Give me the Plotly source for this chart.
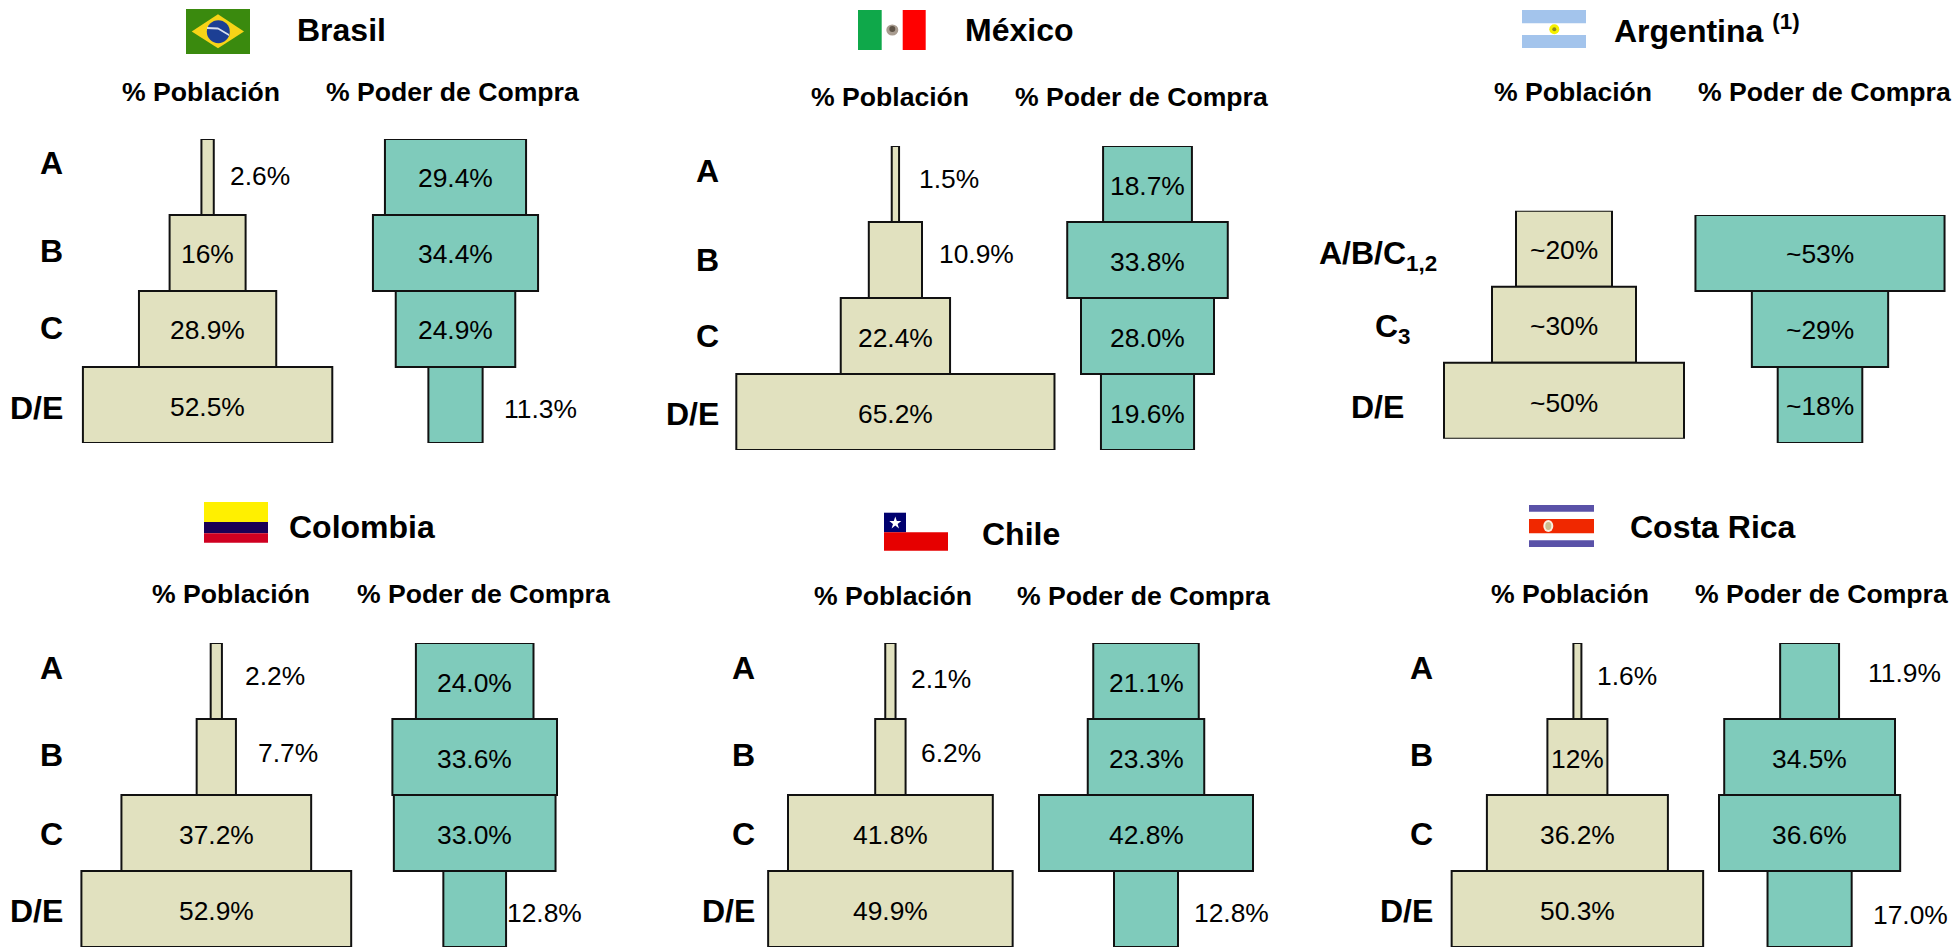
import plotly.graph_objects as go

WIDTH, HEIGHT = 1955, 947
FONT = "Liberation Sans"
TAN = "#E1E1BF"
TEAL = "#7FCBBB"
EDGE = "#111111"

# Socioeconomic levels and shares per country
niveles = ["A", "B", "C", "D/E"]
niveles_ar = ["A/B/C<sub>1,2</sub>", "C<sub>3</sub>", "D/E"]

brasil_pob = [2.6, 16, 28.9, 52.5]
brasil_pob_txt = ["2.6%", "16%", "28.9%", "52.5%"]
brasil_com = [29.4, 34.4, 24.9, 11.3]
brasil_com_txt = ["29.4%", "34.4%", "24.9%", "11.3%"]

mexico_pob = [1.5, 10.9, 22.4, 65.2]
mexico_pob_txt = ["1.5%", "10.9%", "22.4%", "65.2%"]
mexico_com = [18.7, 33.8, 28.0, 19.6]
mexico_com_txt = ["18.7%", "33.8%", "28.0%", "19.6%"]

argentina_pob = [20, 30, 50]
argentina_pob_txt = ["~20%", "~30%", "~50%"]
argentina_com = [53, 29, 18]
argentina_com_txt = ["~53%", "~29%", "~18%"]

colombia_pob = [2.2, 7.7, 37.2, 52.9]
colombia_pob_txt = ["2.2%", "7.7%", "37.2%", "52.9%"]
colombia_com = [24.0, 33.6, 33.0, 12.8]
colombia_com_txt = ["24.0%", "33.6%", "33.0%", "12.8%"]

chile_pob = [2.1, 6.2, 41.8, 49.9]
chile_pob_txt = ["2.1%", "6.2%", "41.8%", "49.9%"]
chile_com = [21.1, 23.3, 42.8, 12.8]
chile_com_txt = ["21.1%", "23.3%", "42.8%", "12.8%"]

costa_pob = [1.6, 12, 36.2, 50.3]
costa_pob_txt = ["1.6%", "12%", "36.2%", "50.3%"]
costa_com = [11.9, 34.5, 36.6, 17.0]
costa_com_txt = ["11.9%", "34.5%", "36.6%", "17.0%"]

COL_POB = "% Población"
COL_COM = "% Poder de Compra"

# Page layout of each funnel: centre x, top y, px per percentage point,
# then the pixel centre of each label (cx, cy)
funnels = [
    dict(cats=niveles, vals=brasil_pob, txt=brasil_pob_txt, color=TAN, cx=207.6, top=139, k=4.75,
         pos=[(259.8, 175.7), (207.6, 254), (207.6, 330), (207.6, 407)]),
    dict(cats=niveles, vals=brasil_com, txt=brasil_com_txt, color=TEAL, cx=455.5, top=139, k=4.8,
         pos=[(455.5, 178), (455.5, 254), (455.5, 330), (540.5, 408.7)]),
    dict(cats=niveles, vals=mexico_pob, txt=mexico_pob_txt, color=TAN, cx=895.4, top=146, k=4.88,
         pos=[(949.3, 179), (976, 254), (895.4, 337.7), (895.4, 414)]),
    dict(cats=niveles, vals=mexico_com, txt=mexico_com_txt, color=TEAL, cx=1147.5, top=146, k=4.75,
         pos=[(1147.5, 185.7), (1147.5, 261.7), (1147.5, 338), (1147.5, 414)]),
    dict(cats=niveles_ar, vals=argentina_pob, txt=argentina_pob_txt, color=TAN, cx=1564, top=210.7, k=4.8,
         pos=[(1564, 250), (1564, 326), (1564, 403)]),
    dict(cats=niveles_ar, vals=argentina_com, txt=argentina_com_txt, color=TEAL, cx=1820, top=215, k=4.7,
         pos=[(1820, 254), (1820, 330), (1820, 406)]),
    dict(cats=niveles, vals=colombia_pob, txt=colombia_pob_txt, color=TAN, cx=216.3, top=643, k=5.1,
         pos=[(274.5, 676), (288, 752.7), (216.3, 835.3), (216.3, 911)]),
    dict(cats=niveles, vals=colombia_com, txt=colombia_com_txt, color=TEAL, cx=474.7, top=643, k=4.9,
         pos=[(474.7, 683), (474.7, 758.7), (474.7, 835.3), (544.5, 912.7)]),
    dict(cats=niveles, vals=chile_pob, txt=chile_pob_txt, color=TAN, cx=890.4, top=643, k=4.9,
         pos=[(940.6, 678.7), (950.9, 752.7), (890.4, 835.3), (890.4, 911)]),
    dict(cats=niveles, vals=chile_com, txt=chile_com_txt, color=TEAL, cx=1146, top=643, k=5.0,
         pos=[(1146, 683), (1146, 758.7), (1146, 835.3), (1231, 912.7)]),
    dict(cats=niveles, vals=costa_pob, txt=costa_pob_txt, color=TAN, cx=1577.4, top=643, k=5.0,
         pos=[(1626.7, 676), (1577.4, 758.7), (1577.4, 835.3), (1577.4, 911)]),
    dict(cats=niveles, vals=costa_com, txt=costa_com_txt, color=TEAL, cx=1809.6, top=643, k=4.95,
         pos=[(1904.4, 672.7), (1809.6, 758.7), (1809.6, 835.3), (1910, 915.3)]),
]
ROW_PX = 76

# Country heading, column headings and row labels
headers = [
    dict(name="Brasil", x=341.5, y=30, anchor="center", pob=(200.7, 92), com=(452, 92),
         rows=[(64.5, 163), (64.5, 251), (64.5, 328), (64.5, 408)]),
    dict(name="México", x=1019.5, y=30, anchor="center", pob=(890, 97), com=(1141, 97),
         rows=[(721, 170.7), (721, 260), (721, 336), (721, 414)]),
    dict(name="Argentina <sup>(1)</sup>", x=1612, y=29, anchor="left", pob=(1572.9, 92), com=(1824, 92),
         rows=[(1438.5, 256), (1412.5, 329), (1405.5, 407)]),
    dict(name="Colombia", x=362.4, y=527, anchor="center", pob=(231, 594), com=(483.3, 594),
         rows=[(65, 667.7), (65, 755), (65, 833.7), (65, 911)]),
    dict(name="Chile", x=1021, y=533.7, anchor="center", pob=(892.5, 596), com=(1143, 596),
         rows=[(757, 667.7), (757, 755), (757, 833.7), (757, 911)]),
    dict(name="Costa Rica", x=1712.5, y=527, anchor="center", pob=(1569.6, 594), com=(1821, 594),
         rows=[(1434.5, 667.7), (1434.5, 755), (1434.5, 833.7), (1434.5, 911)]),
]


def px(x):
    return x / WIDTH


def py(y):
    return 1 - y / HEIGHT


def label(text, x, y, size, bold=False, anchor="center"):
    return dict(text=f"<b>{text}</b>" if bold else text, x=px(x), y=py(y), xref="paper", yref="paper",
                xanchor=anchor, yanchor="middle", showarrow=False,
                font=dict(family=FONT, size=size, color="#000000"))


fig = go.Figure()
layout_axes = {}
annotations = []

for i, f in enumerate(funnels, start=1):
    half = max(f["vals"]) * f["k"] / 2 + 4
    n = len(f["vals"])
    fig.add_trace(go.Bar(
        orientation="h", y=f["cats"], x=f["vals"], base=[-v / 2 for v in f["vals"]], width=1,
        marker=dict(color=f["color"], line=dict(color=EDGE, width=2)),
        xaxis=f"x{i}", yaxis=f"y{i}", cliponaxis=False, hoverinfo="skip", showlegend=False,
    ))
    layout_axes[f"xaxis{i}"] = dict(domain=[px(f["cx"] - half), px(f["cx"] + half)],
                                    range=[-half / f["k"], half / f["k"]], visible=False,
                                    anchor=f"y{i}")
    layout_axes[f"yaxis{i}"] = dict(domain=[py(f["top"] + n * ROW_PX), py(f["top"])],
                                    range=[n - 0.5, -0.5], type="category", visible=False,
                                    anchor=f"x{i}")
    for t, (x, y) in zip(f["txt"], f["pos"]):
        annotations.append(label(t, x, y, 26.4))

for h in headers:
    annotations.append(label(h["name"], h["x"], h["y"], 32, bold=True, anchor=h["anchor"]))
    annotations.append(label(COL_POB, h["pob"][0], h["pob"][1], 26.6, bold=True))
    annotations.append(label(COL_COM, h["com"][0], h["com"][1], 26.6, bold=True))
    cats = niveles_ar if "Argentina" in h["name"] else niveles
    for c, (x, y) in zip(cats, h["rows"]):
        annotations.append(label(c, x, y, 32, bold=True, anchor="right"))


# Small national flags drawn as page-level shapes
def rect(x0, y0, x1, y1, color):
    return dict(type="rect", xref="paper", yref="paper", x0=px(x0), x1=px(x1), y0=py(y0), y1=py(y1),
                fillcolor=color, line_width=0, layer="below")


def oval(cx, cy, rx, ry, color):
    return dict(type="circle", xref="paper", yref="paper", x0=px(cx - rx), x1=px(cx + rx),
                y0=py(cy - ry), y1=py(cy + ry), fillcolor=color, line_width=0, layer="below")


def poly(points, color):
    d = "M " + " L ".join(f"{px(x)},{py(y)}" for x, y in points) + " Z"
    return dict(type="path", xref="paper", yref="paper", path=d, fillcolor=color, line_width=0, layer="below")


shapes = [
    # Brasil
    rect(186, 9, 250, 54, "#3A8A0E"),
    poly([(191.7, 31.5), (218, 14.3), (244, 31.5), (218, 48.3)], "#F7D417"),
    oval(218.3, 31.7, 11.5, 11.5, "#1C3F94"),
    poly([(207, 27), (218, 27.5), (229, 34), (229, 36), (218, 29.5), (207, 29)], "#D9E0EE"),
    # México
    rect(858, 10, 881.7, 50, "#0FA84A"),
    rect(902.7, 10, 925.7, 50, "#FF0000"),
    oval(892.3, 30, 6, 5.5, "#A89C90"),
    oval(892.3, 29, 3, 3, "#5E5347"),
    # Argentina
    rect(1522, 10, 1586, 23.3, "#A3C4EC"),
    rect(1522, 35, 1586, 48, "#A3C4EC"),
    oval(1554.3, 29.3, 5, 5, "#F5F000"),
    oval(1554.3, 29.3, 2, 2, "#8F8A20"),
    # Colombia
    rect(204, 502, 268, 522, "#FFF000"),
    rect(204, 522, 268, 533.3, "#1A0055"),
    rect(204, 533.3, 268, 542.7, "#CF0021"),
    # Chile
    rect(884, 512.7, 906, 532.3, "#00006E"),
    rect(884, 532.3, 948, 550.7, "#E60000"),
    poly([(895.3, 516.5), (896.8, 521), (901.3, 521), (897.6, 523.9), (899, 528.5),
          (895.3, 525.6), (891.6, 528.5), (893, 523.9), (889.3, 521), (893.8, 521)], "#FFFFFF"),
    # Costa Rica
    rect(1529, 505, 1594, 511.7, "#5A52A8"),
    rect(1529, 519, 1594, 533.3, "#F02800"),
    rect(1529, 540.3, 1594, 547, "#5A52A8"),
    oval(1548.3, 526, 5, 6, "#FBEFE0"),
    oval(1548.3, 526, 3, 4, "#C9BE90"),
]

fig.update_layout(
    width=WIDTH, height=HEIGHT, autosize=False,
    margin=dict(l=0, r=0, t=0, b=0, pad=0),
    paper_bgcolor="white", plot_bgcolor="rgba(0,0,0,0)",
    showlegend=False, barmode="overlay",
    annotations=annotations, shapes=shapes,
    **layout_axes,
)

fig.write_html("out.html")
